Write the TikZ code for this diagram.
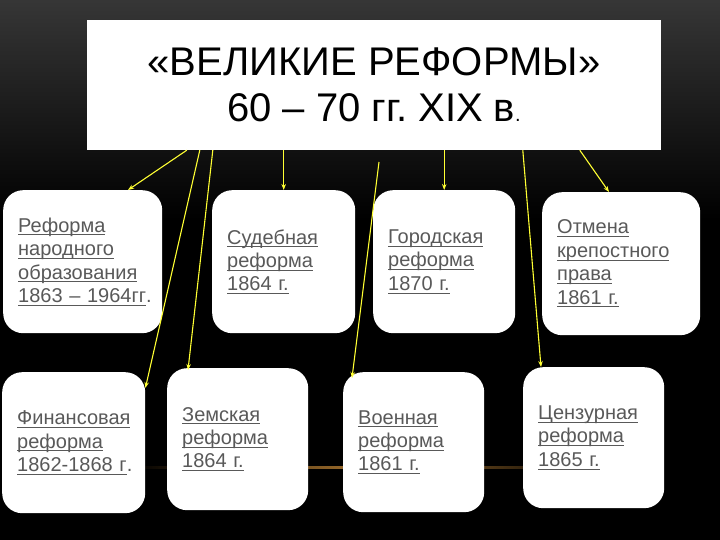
\documentclass[tikz,border=0pt]{standalone}
\usepackage{fontspec}
\setmainfont{Liberation Sans}
\usetikzlibrary{arrows.meta,calc}
\definecolor{txtgray}{HTML}{595959}
\definecolor{lnyellow}{HTML}{FFFF33}
\definecolor{bgtop}{HTML}{363636}
\definecolor{streak}{HTML}{E8A040}
\frenchspacing
\newcommand\myul[1]{\leavevmode\setbox0\hbox{#1}\rlap{\rule[-3.2pt]{\wd0}{1pt}}\box0}
\tikzset{
  rbox/.style={fill=white, rounded corners=20pt, inner xsep=15pt, inner ysep=0pt,
    align=left, anchor=north west, text=txtgray,
    font=\fontsize{20}{23.4}\selectfont},
  link/.style={draw=lnyellow, line width=1.1pt, -{Stealth[length=6pt,width=4.5pt]}},
  titlebox/.style={fill=white, minimum width=574pt, minimum height=130pt, inner sep=0pt,
    align=center, font=\fontsize{40}{46}\selectfont, text=black}
}
\begin{document}
\begin{tikzpicture}[x=1pt,y=-1pt]
\useasboundingbox (0,0) rectangle (720,540);
% background
\fill[black] (0,0) rectangle (720,540);
\shade[top color=bgtop, bottom color=black] (0,0) rectangle (720,220);
% light streak
\shade[left color=black, right color=black, middle color=streak, opacity=0.7] (130,466) rectangle (600,468);

% title
\node[titlebox] (title) at (374,85) {«ВЕЛИКИЕ РЕФОРМЫ»\\60 – 70 гг. XIX в{\fontsize{20}{20}\selectfont .}};

% boxes
\node[rbox, text width=129pt, minimum height=143pt] (b1) at (3,190)
  {\myul{Реформа}\\\myul{народного}\\\myul{образования}\\\myul{1863 – 1964гг}.};
\node[rbox, text width=113pt, minimum height=143pt] (b2) at (212,190)
  {\myul{Судебная}\\\myul{реформа}\\\myul{1864 г.}};
\node[rbox, text width=112pt, minimum height=143pt] (b3) at (373,190)
  {\myul{Городская}\\\myul{реформа}\\\myul{1870 г.}};
\node[rbox, text width=128pt, minimum height=143pt] (b4) at (542,192)
  {\myul{Отмена}\\\myul{крепостного}\\\myul{права}\\\myul{1861 г.}};
\node[rbox, text width=113pt, minimum height=141pt] (b5) at (2,372)
  {\myul{Финансовая}\\\myul{реформа}\\\myul{1862-1868 г}.};
\node[rbox, text width=111pt, minimum height=142pt] (b6) at (167,368)
  {\myul{Земская}\\\myul{реформа}\\\myul{1864 г.}};
\node[rbox, text width=111pt, minimum height=140pt] (b7) at (343,372)
  {\myul{Военная}\\\myul{реформа}\\\myul{1861 г.}};
\node[rbox, text width=111pt, minimum height=141pt] (b8) at (523,367)
  {\myul{Цензурная}\\\myul{реформа}\\\myul{1865 г.}};

% connectors
\coordinate (c7) at (379,162);
\draw[link] ($(title.south west)+(100,0)$) -- ($(b1.north west)+(125,0)$);
\draw[link] ($(title.south west)+(113,0)$) -- ($(b5.north east)+(0,16)$);
\draw[link] ($(title.south west)+(126,0)$) -- ($(b6.north west)+(21,2)$);
\draw[link] (title.south -| b2.north) -- (b2.north);
\draw[link] (title.south -| b3.north) -- (b3.north);
\draw[link] (c7) -- ($(b7.north west)+(9,6)$);
\draw[link] ($(title.south west)+(436,0)$) -- ($(b8.north west)+(18,0)$);
\draw[link] ($(title.south west)+(493,0)$) -- ($(b4.north west)+(67,0)$);
\end{tikzpicture}
\end{document}
